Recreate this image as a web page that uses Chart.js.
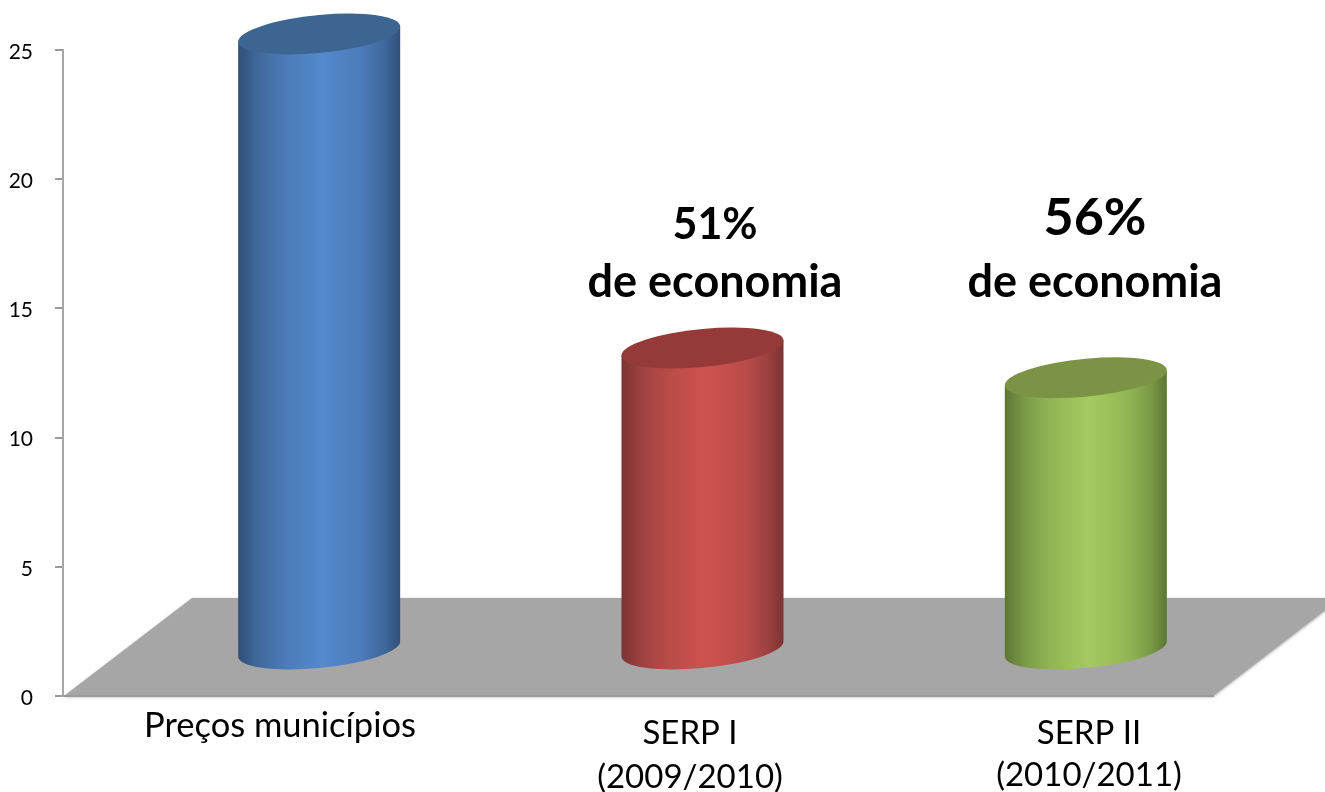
<!DOCTYPE html>
<html>
<head>
<meta charset="utf-8">
<style>
body { margin: 0; background: #fff; }
canvas { display: block; }
</style>
<script src="https://cdn.jsdelivr.net/npm/chart.js@4/dist/chart.umd.min.js"></script>
</head>
<body>
<canvas id="grafico" width="1325" height="792"></canvas>
<script>
const categorias = ['Preços municípios', ['SERP I', '(2009/2010)'], ['SERP II', '(2010/2011)']];
const precos = [23.8, 11.65, 10.5];
const economia = ['', '51%', '56%'];
const textoEconomia = 'de economia';
const marcasY = [0, 5, 10, 15, 20, 25];

const cores = [
    { borda: '#2f5078', meio: '#5589cd', topo: '#3d6591' },
    { borda: '#7a3432', meio: '#ce5350', topo: '#953a38' },
    { borda: '#5c7634', meio: '#a5ca60', topo: '#7b9345' }
];

// the 3D look: bars sit halfway into the floor
const fundoX = 128, fundoY = 98;
const barraX = 64.5, barraY = -47;
const inclinacao = -0.0926;
const elipseB = 19;

const fonte = 'Lato, Carlito, sans-serif';
const posRotulos = [
    { x: 280, y: [726], tam: 34.5 },
    { x: 690, y: [733, 777], tam: 33 },
    { x: 1089, y: [733, 775], tam: 33 }
];
const posEconomia = [
    null,
    { x: 715, yPct: 225, yTxt: 282, tam: 43 },
    { x: 1095, yPct: 218, yTxt: 282, tam: 52 }
];

function gradienteBarra(c) {
    const chart = c.chart;
    const cor = cores[c.dataIndex];
    const meio = chart.scales.x ? chart.scales.x.getPixelForValue(c.dataIndex) : NaN;
    // options get resolved once before the scales have a size
    if (!Number.isFinite(meio)) return cor.meio;
    const g = chart.ctx.createLinearGradient(meio - 81, 0, meio + 81, 0);
    g.addColorStop(0, cor.borda);
    g.addColorStop(0.12, misturar(cor.borda, cor.meio, 0.42));
    g.addColorStop(0.28, misturar(cor.borda, cor.meio, 0.74));
    g.addColorStop(0.52, cor.meio);
    g.addColorStop(0.76, misturar(cor.borda, cor.meio, 0.76));
    g.addColorStop(0.9, misturar(cor.borda, cor.meio, 0.42));
    g.addColorStop(1, cor.borda);
    return g;
}

function misturar(a, b, t) {
    const pa = parseInt(a.slice(1), 16), pb = parseInt(b.slice(1), 16);
    const canal = s => Math.round(((pa >> s) & 255) * (1 - t) + ((pb >> s) & 255) * t);
    return 'rgb(' + canal(16) + ',' + canal(8) + ',' + canal(0) + ')';
}

const piso = {
    id: 'piso',
    beforeDraw(chart) {
        const { ctx, scales } = chart;
        const y0 = scales.y.getPixelForValue(0);
        const esq = scales.x.left + 1, dir = scales.x.right;
        ctx.save();
        ctx.shadowColor = 'rgba(0,0,0,0.35)';
        ctx.shadowBlur = 3;
        ctx.shadowOffsetY = 1;
        ctx.fillStyle = '#a6a6a6';
        ctx.beginPath();
        ctx.moveTo(esq, y0);
        ctx.lineTo(dir, y0);
        ctx.lineTo(dir + fundoX, y0 - fundoY);
        ctx.lineTo(esq + fundoX, y0 - fundoY);
        ctx.closePath();
        ctx.fill();
        ctx.restore();
    }
};

const cilindros = {
    id: 'cilindros',
    beforeDatasetDraw(chart, args) {
        const { ctx, scales } = chart;
        const y0 = scales.y.getPixelForValue(0);
        args.meta.data.forEach((barra, i) => {
            const a = barra.width / 2;
            ctx.save();
            ctx.translate(barra.x + barraX, barraY);
            ctx.transform(1, inclinacao, 0, 1, 0, 0);
            ctx.translate(-barra.x, 0);
            ctx.fillStyle = barra.options.backgroundColor;
            ctx.beginPath();
            ctx.ellipse(barra.x, y0, a, elipseB, 0, 0, Math.PI * 2);
            ctx.fill();
            barra.draw(ctx);
            ctx.fillStyle = cores[i].topo;
            ctx.beginPath();
            ctx.ellipse(barra.x, barra.y, a, elipseB, 0, 0, Math.PI * 2);
            ctx.fill();
            ctx.restore();
        });
        return false;
    }
};

const textos = {
    id: 'textos',
    afterDraw(chart) {
        const { ctx } = chart;
        ctx.save();
        ctx.textAlign = 'center';
        ctx.textBaseline = 'middle';
        ctx.fillStyle = '#000';
        categorias.forEach((rotulo, i) => {
            ctx.font = posRotulos[i].tam + 'px ' + fonte;
            [].concat(rotulo).forEach((linha, j) => {
                ctx.fillText(linha, posRotulos[i].x, posRotulos[i].y[j]);
            });
        });
        economia.forEach((pct, i) => {
            if (!pct) return;
            const p = posEconomia[i];
            ctx.font = 'bold ' + p.tam + 'px ' + fonte;
            ctx.fillText(pct, p.x, p.yPct);
            ctx.font = 'bold 45px ' + fonte;
            ctx.fillText(textoEconomia, p.x, p.yTxt);
        });
        ctx.restore();
    }
};

new Chart(document.getElementById('grafico'), {
    type: 'bar',
    data: {
        labels: categorias,
        datasets: [{
            data: precos,
            backgroundColor: gradienteBarra,
            clip: false,
            barPercentage: 162 / 383.33,
            categoryPercentage: 1
        }]
    },
    plugins: [piso, cilindros, textos],
    options: {
        responsive: false,
        animation: false,
        events: [],
        layout: { padding: { top: 50, right: 112, left: 0, bottom: 0 } },
        plugins: {
            legend: { display: false },
            title: { display: false },
            tooltip: { enabled: false }
        },
        scales: {
            x: {
                afterFit(s) { s.height = 96; },
                grid: { display: false },
                border: { color: '#9a9a9a', width: 2 },
                ticks: { display: false }
            },
            y: {
                min: 0,
                max: 25,
                afterFit(s) { s.width = 63; },
                afterBuildTicks(s) { s.ticks = marcasY.map(v => ({ value: v })); },
                grid: { drawOnChartArea: false, tickLength: 8, color: '#9a9a9a', lineWidth: 2 },
                border: { color: '#a6a6a6', width: 2 },
                ticks: {
                    padding: 22,
                    labelOffset: 2,
                    color: '#000',
                    font: { family: fonte, size: 21 }
                }
            }
        }
    }
});
</script>
</body>
</html>
